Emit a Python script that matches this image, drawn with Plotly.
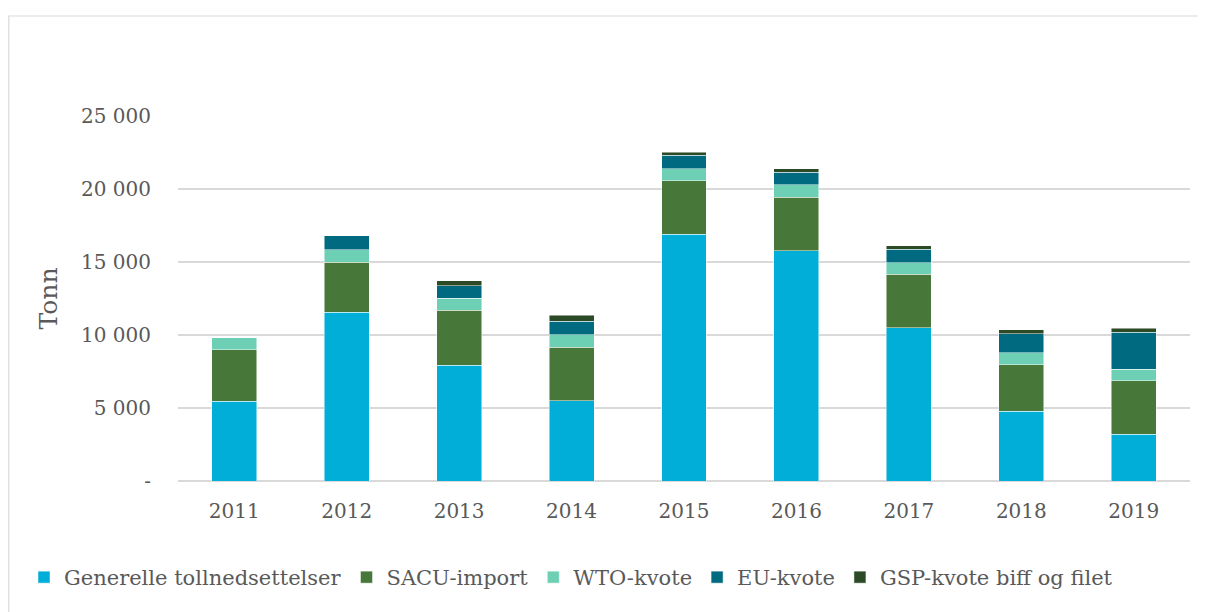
import plotly.graph_objects as go

years = ["2011", "2012", "2013", "2014", "2015", "2016", "2017", "2018", "2019"]
generelle = [5450, 11550, 7920, 5510, 16890, 15780, 10500, 4780, 3190]
sacu = [3550, 3430, 3780, 3660, 3690, 3670, 3660, 3190, 3660]
wto = [800, 850, 820, 850, 800, 840, 800, 820, 820]
eu = [0, 970, 870, 930, 940, 860, 910, 1300, 2510]
gsp = [0, 0, 340, 390, 200, 250, 250, 270, 290]

series_names = ["Generelle tollnedsettelser", "SACU-import", "WTO-kvote", "EU-kvote",
                "GSP-kvote biff og filet"]
series_colors = ["#00AED8", "#48773A", "#6DCFB3", "#006A80", "#2D4A26"]

tick_vals = [0, 5000, 10000, 15000, 20000, 25000]
tick_text = ["-", "5 000", "10 000", "15 000", "20 000", "25 000"]

FONT = "DejaVu Serif"
GREY = "#595959"

fig = go.Figure()
for name, vals, col in zip(series_names, [generelle, sacu, wto, eu, gsp], series_colors):
    fig.add_trace(go.Bar(
        x=years, y=vals, name=name,
        marker=dict(color=col, line=dict(color="rgba(255,255,255,0.6)", width=0.8)),
    ))

# page has an 8px body margin; figure coordinates are page - 8
W, H = 1198, 604
L, R, T, B = 170, 16, 108, 131
pw = W - L - R
ph = H - T - B
y0pix = H - B  # zero line in figure coords

fig.update_layout(
    width=W, height=H,
    barmode="stack",
    bargap=0.6,
    plot_bgcolor="white",
    paper_bgcolor="white",
    margin=dict(l=L, r=R, t=T, b=B, pad=0),
    font=dict(family=FONT, color=GREY, size=20),
    showlegend=True,
    legend=dict(
        orientation="h",
        x=(16 - L) / pw, xanchor="left",
        y=(y0pix - 549) / ph, yanchor="top",
        font=dict(family=FONT, size=21, color=GREY),
        traceorder="normal",
        itemwidth=30,
        bgcolor="rgba(0,0,0,0)",
    ),
    xaxis=dict(
        type="category",
        showgrid=False,
        showline=False,
        ticks="",
        tickfont=dict(family=FONT, size=20, color=GREY),
        ticklabelstandoff=16,
    ),
    yaxis=dict(
        range=[0, 25000],
        tickvals=tick_vals,
        ticktext=tick_text,
        showgrid=True,
        gridcolor="#D9D9D9",
        gridwidth=1.5,
        zeroline=True,
        zerolinecolor="#D9D9D9",
        zerolinewidth=1.5,
        showline=False,
        ticks="",
        tickfont=dict(family=FONT, size=20, color=GREY),
        ticklabelstandoff=26,
        title=dict(text="Tonn", font=dict(family=FONT, size=25, color=GREY), standoff=16),
    ),
    shapes=[dict(
        type="rect", xref="paper", yref="paper",
        x0=(0.8 - L) / pw, x1=(1215 - L) / pw,
        y0=(y0pix - 630) / ph, y1=(y0pix - 8) / ph,
        line=dict(color="#D9D9D9", width=1.2),
        fillcolor="rgba(0,0,0,0)", layer="below",
    )],
)

fig.write_html("out.html")
